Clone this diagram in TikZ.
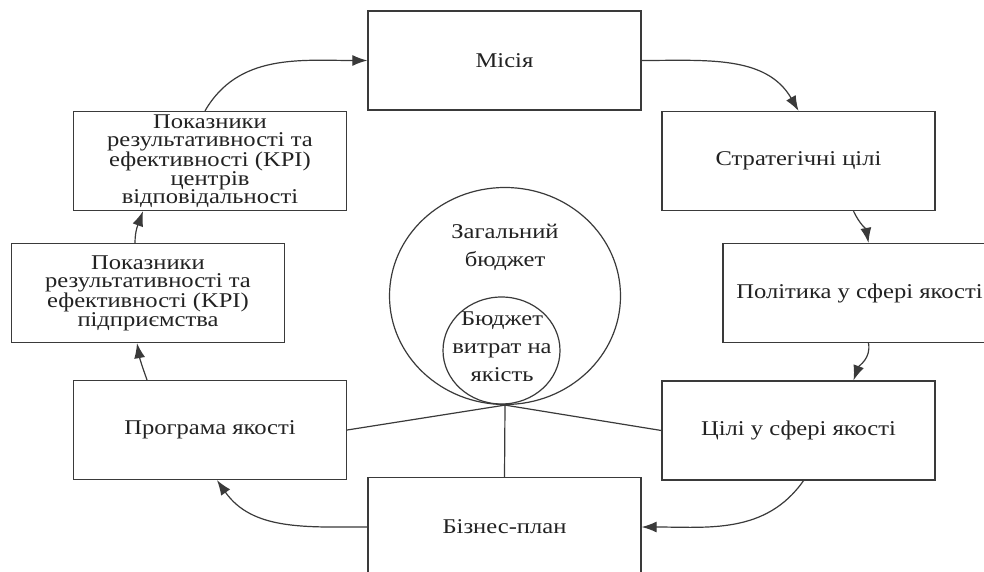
\documentclass[tikz,border=0pt]{standalone}
\usepackage{fontspec}
\setmainfont{Liberation Serif}[FakeStretch=1.17]
\usetikzlibrary{arrows.meta,shapes.geometric}
\definecolor{linegray}{HTML}{3A3A3A}
\definecolor{textgray}{HTML}{222222}

\begin{document}
\begin{tikzpicture}[x=1pt,y=1pt,>={Latex[length=15pt,width=11pt]},
		box/.style={draw=linegray,line width=1.3pt,minimum width=273pt,minimum height=99pt,inner sep=1pt,align=center,text=textgray,font=\fontsize{21}{18.5}\selectfont},
		oval/.style={ellipse,draw=linegray,line width=1.2pt,inner sep=0pt},
		ovaltext/.style={align=center,text=textgray,font=\fontsize{21}{28}\selectfont},
		flow/.style={->,draw=linegray,line width=1.2pt},
		link/.style={draw=linegray,line width=1.2pt}]
		\clip (0,0) rectangle (984,-572);
		\fill[white] (0,0) rectangle (984,-572);

		% boxes round the circle
		\node[box] (missia) at (504.5,-60.5) {Місія};
		\node[box] (stratcili) at (798.5,-161) {Стратегічні цілі};
		\node[box] (polityka) at (859.5,-293) {Політика у сфері якості};
		\node[box] (cilijakosti) at (798.5,-430.5) {Цілі у сфері якості};
		\node[box] (biznesplan) at (504.5,-527) {Бізнес-план};
		\node[box] (programa) at (210,-430) {Програма якості};
		\node[box] (kpipidpr) at (148,-293) {Показники\\результативності та\\ефективності (KPI)\\підприємства};
		\node[box] (kpicentr) at (210,-161) {Показники\\результативності та\\ефективності (KPI)\\центрів\\відповідальності};

		% budgets
		\node[oval,minimum width=231pt,minimum height=217pt] (zagbudzhet) at (505,-296) {};
		\node[oval,minimum width=117pt,minimum height=107pt] (budzhetjak) at (501.5,-350.5) {};
		\node[ovaltext] (zagtext) at (505,-247) {Загальний\\бюджет};
		\node[ovaltext] (jaktext) at (502,-347) {Бюджет\\витрат на\\якість};

		\draw[link] (zagbudzhet.south) -- (programa.east);
		\draw[link] (zagbudzhet.south) -- (cilijakosti.west);
		\draw[link] (zagbudzhet.south) -- (biznesplan.north);

		% cycle
		\draw[flow] (missia.east) to[out=0,in=120] (stratcili.north);
		\draw[flow] ([xshift=55pt]stratcili.south) to[out=-65,in=100] ([xshift=9pt]polityka.north);
		\draw[flow] ([xshift=9pt]polityka.south) to[out=-80,in=70] ([xshift=55pt]cilijakosti.north);
		\draw[flow] ([xshift=5pt]cilijakosti.south) to[out=-125,in=0] (biznesplan.east);
		\draw[flow] (biznesplan.west) to[out=180,in=-55] ([xshift=7pt]programa.south);
		\draw[flow] ([xshift=-63pt]programa.north) to[out=110,in=-80] ([xshift=-11pt]kpipidpr.south);
		\draw[flow] ([xshift=-13pt]kpipidpr.north) to[out=90,in=-110] ([xshift=-67pt]kpicentr.south);
		\draw[flow] ([xshift=-5pt]kpicentr.north) to[out=60,in=180] (missia.west);
	\end{tikzpicture}
\end{document}
